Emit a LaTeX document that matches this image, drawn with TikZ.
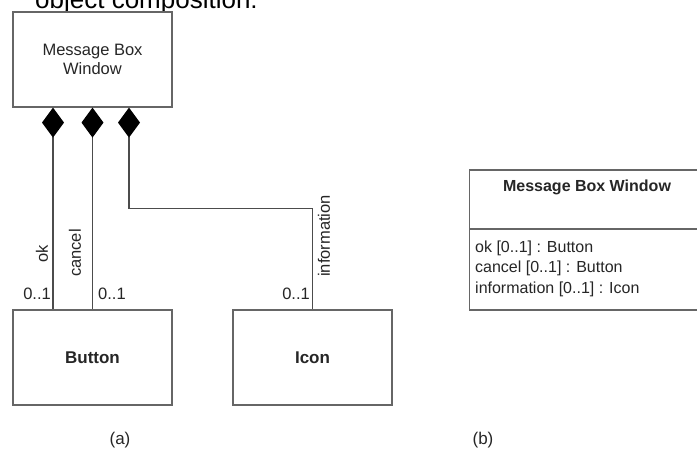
\documentclass[tikz,border=0pt]{standalone}
\usepackage{fontspec}
\setmainfont{Liberation Sans}
\usetikzlibrary{arrows.meta}
\begin{document}
\begin{tikzpicture}[x=1pt,y=-1pt,
  txt/.style={font=\fontsize{16.5}{20}\selectfont, text=black!85},
  box/.style={draw=black!60, line width=1.2pt, fill=white, minimum width=159pt, minimum height=95pt, inner sep=0pt},
  conn/.style={draw=black!70, line width=1.2pt},
  comp/.style={conn, {Diamond[length=30pt,width=22pt,fill=black,color=black]}-},
  lbl/.style={txt, inner sep=0pt},
  cls/.style={draw=black!60, line width=1.2pt}]
\useasboundingbox (0,0) rectangle (697,455);
\clip (0,0) rectangle (697,455);
\fill[white] (0,0) rectangle (697,455);

% heading line, partly above the frame
\node[anchor=base west, inner sep=0pt, font=\fontsize{26}{30}\selectfont] (head) at (35,9) {object composition:};

% (a) class diagram with composition
\node[box, txt, align=center] (mbw) at (92.5,59.5) {Message Box\\[-1pt]Window};
\node[box, txt, font=\fontsize{17}{20}\selectfont\bfseries] (btn) at (92.5,357.5) {Button};
\node[box, txt, font=\fontsize{17}{20}\selectfont\bfseries] (icon) at (312.5,357.5) {Icon};

\draw[comp] ([xshift=-39.5pt]mbw.south) -- ([xshift=-39.5pt]btn.north);
\draw[comp] (mbw.south) -- (btn.north);
\coordinate (bend) at ([xshift=36.5pt,yshift=-101pt]mbw.south);
\draw[comp] ([xshift=36.5pt]mbw.south) -- (bend) -| (icon.north);

\node[lbl, rotate=90] (lok) at (42,254) {ok};
\node[lbl, rotate=90] (lcancel) at (75,253) {cancel};
\node[lbl, rotate=90] (linfo) at (324,236) {information};
\node[lbl, anchor=east] (m1) at (51,294) {0..1};
\node[lbl, anchor=west] (m2) at (98,294) {0..1};
\node[lbl, anchor=east] (m3) at (310,294) {0..1};

\node[txt, font=\fontsize{17}{20}\selectfont] (capa) at (120,440) {(a)};

% (b) class with attributes
\draw[cls] (469.5,170) rectangle (710,310);
\draw[cls] (469.5,229) -- (710,229);
\node[txt, font=\fontsize{16}{20}\selectfont\bfseries] (clsname) at (587,187) {Message Box Window};
\node[lbl, anchor=west, font=\fontsize{16}{20}\selectfont] (a1) at (475,248) {ok [0..1] : Button};
\node[lbl, anchor=west, font=\fontsize{16}{20}\selectfont] (a2) at (475,268.5) {cancel [0..1] : Button};
\node[lbl, anchor=west, font=\fontsize{16}{20}\selectfont] (a3) at (475,289) {information [0..1] : Icon};

\node[txt, font=\fontsize{17}{20}\selectfont] (capb) at (483,440) {(b)};
\end{tikzpicture}
\end{document}
